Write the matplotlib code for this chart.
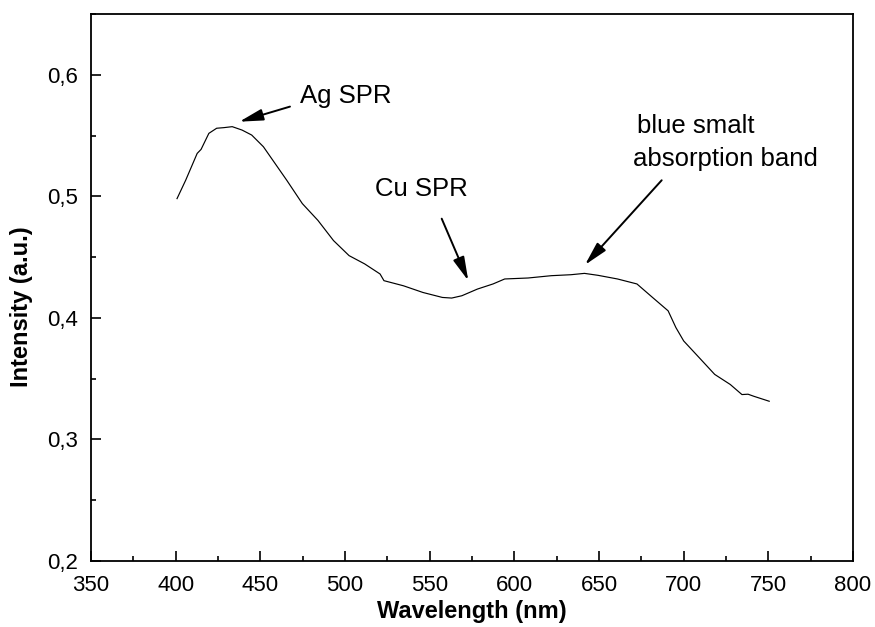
import numpy as np
import matplotlib.pyplot as plt
from matplotlib.ticker import MultipleLocator, FuncFormatter

# Data
wavelength = [400.8, 405.9, 412.7, 415.0, 419.6, 424.2, 428.5, 433.4, 439.2,
              444.9, 451.8, 458.7, 465.6, 474.8, 484.0, 493.2, 502.4, 511.6,
              520.7, 523.0, 534.5, 546.0, 557.5, 563.0, 569.0, 578.2, 587.4,
              594.3, 608.1, 621.8, 633.4, 641.4, 649.4, 660.9, 672.4, 681.6,
              690.8, 695.4, 700.0, 709.2, 718.3, 727.5, 734.4, 738.0, 741.4,
              750.5]
intensity = [0.4981, 0.5132, 0.5353, 0.5386, 0.5518, 0.5560, 0.5565, 0.5573,
             0.5545, 0.5504, 0.5408, 0.5270, 0.5132, 0.4940, 0.4802, 0.4636,
             0.4512, 0.4444, 0.4361, 0.4306, 0.4264, 0.4209, 0.4168, 0.4163,
             0.4182, 0.4237, 0.4279, 0.4320, 0.4328, 0.4347, 0.4355, 0.4366,
             0.4350, 0.4320, 0.4279, 0.4168, 0.4058, 0.3920, 0.3810, 0.3672,
             0.3535, 0.3452, 0.3369, 0.3372, 0.3355, 0.3314]

# annotation texts and where they sit (left edge, baseline)
labels = ["Ag SPR", "Cu SPR", "blue smalt", "absorption band"]
label_pos = [(473.4, 0.5769), (517.7, 0.5000), (672.4, 0.5520), (670.0, 0.5248)]

# arrows: tail -> head
arrow_tails = [(467.5, 0.5738), (557.1, 0.4816), (687.0, 0.5132)]
arrow_heads = [(437.6, 0.5614), (572.8, 0.4306), (641.7, 0.4436)]

plt.rcParams['font.family'] = ['Liberation Sans', 'DejaVu Sans']

fig = plt.figure(figsize=(8.75, 6.27), dpi=100)
ax = fig.add_axes([0.104, 0.1053, 0.8709, 0.8724])

ax.plot(wavelength, intensity, color='black', linewidth=0.85)

for lab, pos in zip(labels, label_pos):
    ax.text(pos[0], pos[1], lab, fontsize=18.5, ha='left', va='baseline')

for tail, head in zip(arrow_tails, arrow_heads):
    ax.annotate('', xy=head, xytext=tail,
                arrowprops=dict(arrowstyle='-|>,head_length=0.9,head_width=0.22',
                                color='black', lw=1.4, mutation_scale=16,
                                shrinkA=0, shrinkB=0))

ax.set_xlim(350, 800)
ax.set_ylim(0.2, 0.65)
ax.xaxis.set_major_locator(MultipleLocator(50))
ax.xaxis.set_minor_locator(MultipleLocator(25))
ax.yaxis.set_major_locator(MultipleLocator(0.1))
ax.yaxis.set_minor_locator(MultipleLocator(0.05))
ax.yaxis.set_major_formatter(FuncFormatter(lambda v, p: f"{v:.1f}".replace('.', ',')))

ax.tick_params(which='both', direction='in', top=False, right=False, labelsize=16, width=1.2)
ax.tick_params(which='major', length=7.5)
ax.tick_params(which='minor', length=3.5)
ax.tick_params(axis='x', which='major', pad=10)
ax.tick_params(axis='y', which='major', pad=9)
for s in ax.spines.values():
    s.set_linewidth(1.3)

ax.set_xlabel("Wavelength (nm)", fontsize=17, fontweight='bold', labelpad=3)
ax.set_ylabel("Intensity (a.u.)", fontsize=17, fontweight='bold')
ax.yaxis.set_label_coords(-0.076, 0.464)

plt.savefig("out.png", dpi=100)
plt.close()
